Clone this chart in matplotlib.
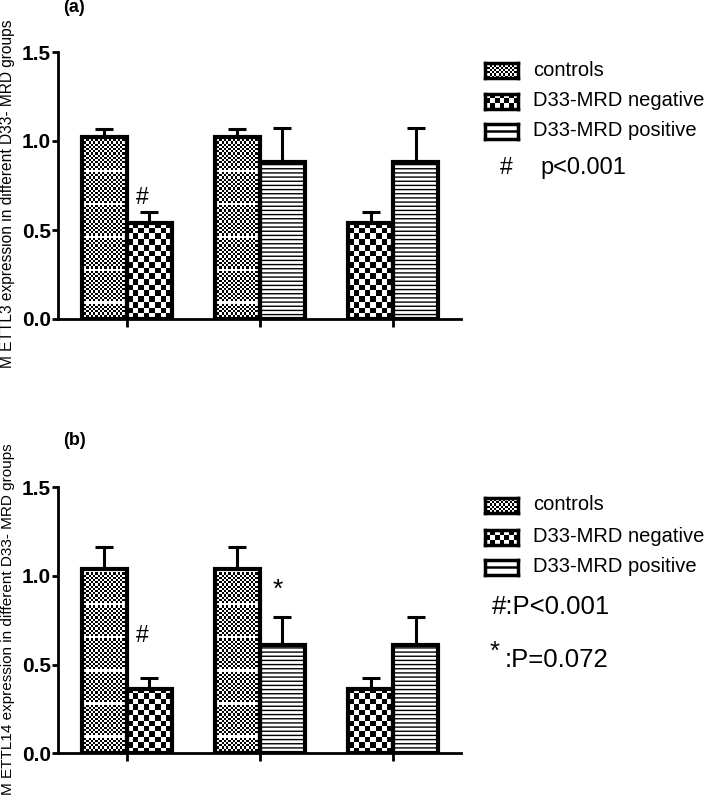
import numpy as np
import matplotlib
matplotlib.use('Agg')
import matplotlib.pyplot as plt

plt.rcParams['font.family'] = ['Liberation Sans', 'DejaVu Sans']
plt.rcParams['hatch.linewidth'] = 1.0

# ---------------- data ----------------
series_names = ['controls', 'D33-MRD negative', 'D33-MRD positive']
series_patterns = ['fine', 'coarse', 'lines']
group_pairs = [(0, 1), (0, 2), (1, 2)]          # indices into series_names
group_labels = ['', '', '']

ylabel_a = 'M ETTL3 expression in different D33- MRD groups'
means_a = [1.02, 0.54, 0.88]
errs_a = [0.045, 0.06, 0.195]

ylabel_b = 'M ETTL14 expression in different D33- MRD groups'
means_b = [1.04, 0.365, 0.612]
errs_b = [0.125, 0.058, 0.155]

yticks = [0.0, 0.5, 1.0, 1.5]

# significance marks: (symbol, x in group units, y in data units)
marks_a = [('#', 0.115, 0.685)]
marks_b = [('#', 0.115, 0.667), ('*', 1.135, 0.92)]

# ---------------- figure ----------------
W, H = 709, 800
fig = plt.figure(figsize=(W / 100, H / 100), dpi=100)

def fbox(left, right, top, bottom):
    return [left / W, 1 - bottom / H, (right - left) / W, (bottom - top) / H]

BW = 0.3375
XLIM = (-0.515, 2.508)


def checker(wpx, hpx, cell, band=None):
    nx = max(1, int(round(wpx / cell)))
    ny = max(1, int(round(hpx / cell)))
    i, j = np.indices((ny, nx))
    arr = ((i + j) % 2).astype(float)
    if band:
        arr[(i % band) == band // 2] *= 0.0
    return arr


def draw_panel(ax, means, errs, marks):
    ax.set_xlim(*XLIM)
    ax.set_ylim(0, 1.5)
    pending = []
    for gi, pair in enumerate(group_pairs):
        for k, si in enumerate(pair):
            xc = gi + (k - 0.5) * BW
            m, e = means[si], errs[si]
            pat = series_patterns[si]
            bars = ax.bar(xc, m, width=BW, facecolor='none', edgecolor='black',
                          linewidth=3.0, hatch='----' if pat == 'lines' else None,
                          zorder=3)
            ax.errorbar(xc, m, yerr=[[0], [e]], fmt='none', ecolor='black',
                        elinewidth=2.2, capsize=6.8, capthick=2.2, zorder=2)
            if pat != 'lines':
                pending.append((bars[0], pat))
    for patch, pat in pending:
        bb = patch.get_window_extent()
        x0 = patch.get_x(); w = patch.get_width(); h = patch.get_height()
        if pat == 'fine':
            arr = checker(bb.width, bb.height, 2.2, band=15)
        else:
            arr = checker(bb.width, bb.height, 5.5)
        ax.imshow(arr, extent=(x0, x0 + w, 0, h), origin='lower', cmap='gray_r',
                  vmin=0, vmax=1, aspect='auto', interpolation='nearest',
                  zorder=2.5, clip_path=patch, clip_on=True)
    for sym, x, y in marks:
        ax.text(x, y, sym, ha='center', va='center',
                fontsize=16.5 if sym == '#' else 19)
    ax.set_xlim(*XLIM)
    ax.set_ylim(0, 1.5)
    ax.set_yticks(yticks)
    ax.set_yticklabels(['%.1f' % t for t in yticks], fontsize=15, fontweight='bold')
    ax.set_xticks(range(len(group_pairs)))
    ax.set_xticklabels(group_labels)
    for s in ['top', 'right']:
        ax.spines[s].set_visible(False)
    for s in ['left', 'bottom']:
        ax.spines[s].set_linewidth(2.0)
    ax.tick_params(axis='y', length=4.3, width=2.0, pad=1)
    ax.tick_params(axis='x', length=5.8, width=2.0)


ax_a = fig.add_axes(fbox(58, 461, 52, 319))
draw_panel(ax_a, means_a, errs_a, marks_a)
ax_b = fig.add_axes(fbox(58, 461, 487.3, 753.3))
draw_panel(ax_b, means_b, errs_b, marks_b)

fig.text(8 / W, 1 - 194 / H, ylabel_a, rotation=90, ha='center', va='center', fontsize=11.2)
fig.text(8 / W, 1 - 619 / H, ylabel_b, rotation=90, ha='center', va='center', fontsize=11.0)
fig.text(63 / W, 1 - 8 / H, '(a)', fontsize=13, fontweight='bold', ha='left', va='center')
fig.text(63 / W, 1 - 440 / H, '(b)', fontsize=13, fontweight='bold', ha='left', va='center')


def swatch(pat, cy):
    sw = fig.add_axes(fbox(485, 518, cy - 7.5, cy + 7.5))
    sw.set_xlim(0, 1); sw.set_ylim(0, 1)
    if pat == 'fine':
        sw.imshow(checker(33, 15, 2.2), extent=(0, 1, 0, 1), cmap='gray_r', vmin=0, vmax=1,
                  aspect='auto', interpolation='nearest', origin='lower')
    elif pat == 'coarse':
        sw.imshow(checker(33, 15, 5.0), extent=(0, 1, 0, 1), cmap='gray_r', vmin=0, vmax=1,
                  aspect='auto', interpolation='nearest', origin='lower')
    else:
        sw.axhline(0.5, color='black', linewidth=1.8)
    sw.set_xticks([]); sw.set_yticks([])
    for s in sw.spines.values():
        s.set_linewidth(2.5)


def legend(rows_y):
    for name, pat, cy in zip(series_names, series_patterns, rows_y):
        swatch(pat, cy)
        fig.text(533 / W, 1 - cy / H, name, fontsize=14.5, ha='left', va='center')


legend([70.7, 101, 131])
legend([505, 537, 567])

fig.text(506 / W, 1 - 168 / H, '#', fontsize=16.5, ha='center', va='center')
fig.text(540 / W, 1 - 168 / H, 'p<0.001', fontsize=17, ha='left', va='center')
fig.text(492 / W, 1 - 607 / H, '#:P<0.001', fontsize=18.5, ha='left', va='center')
fig.text(495 / W, 1 - 652 / H, '*', fontsize=18.5, ha='center', va='center')
fig.text(505 / W, 1 - 660 / H, ':P=0.072', fontsize=18.5, ha='left', va='center')

fig.savefig('out.png', dpi=100)
